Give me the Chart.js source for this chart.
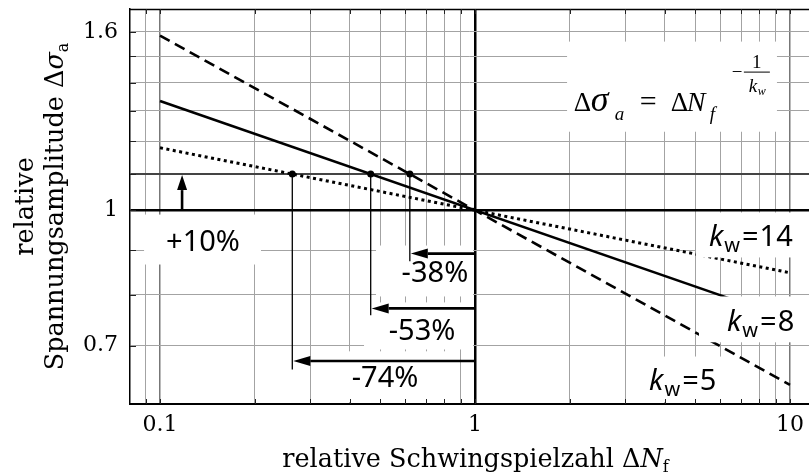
<!DOCTYPE html>
<html>
<head>
<meta charset="utf-8">
<script src="https://cdn.jsdelivr.net/npm/chart.js@4.4.1/dist/chart.umd.min.js"></script>
<style>
  html, body { margin: 0; padding: 0; background: #fff; overflow: hidden; }
  #wrap { width: 809px; height: 476px; }
</style>
</head>
<body>
<div id="wrap"><canvas id="c" width="809" height="476"></canvas></div>
<script>
// Woehler lines  Δσ = ΔN^(-1/k)  for three slopes (log-log)
const slopes     = [5, 8, 14];
const lineN      = [0.1, 10];                 // start / end cycle ratio
const lineS5     = [1.585, 0.631];
const lineS8     = [1.334, 0.750];
const lineS14    = [1.179, 0.848];

// +10 % stress and the resulting life ratios
const stressLevel = 1.1;
const crossN      = [0.621, 0.4665, 0.263];   // k = 5, 8, 14
const lifeLabels  = ['-38%', '-53%', '-74%'];
const arrowS      = [0.892, 0.772, 0.672];
const dropEndS    = [0.874, 0.758, 0.657];
const upArrowN    = 0.1175;

// axis ticks
const xTicks      = [0.09, 0.1, 0.2, 0.3, 0.4, 0.5, 0.6, 0.7, 0.8, 0.9, 1, 2, 3, 4, 5, 6, 7, 8, 9, 10];
const xLabelVals  = [0.1, 1, 10];
const xLabelText  = ['0.1', '1', '10'];
const yTicks      = [0.7, 0.8, 0.9, 1, 1.1, 1.2, 1.3, 1.4, 1.5, 1.6];
const yLabelVals  = [0.7, 1, 1.6];
const yLabelText  = ['0.7', '1', '1.6'];

// annotation placement (data units)
const layoutCfg = {
  percentAt: [[0.746, 0.8267], [0.679, 0.7112], [0.518, 0.6267]],
  plusAt: [0.1369, 0.8992],
  slopeAt: [[3.57, 0.6227], [6.31, 0.7265], [5.53, 0.9089]],   // k = 5, 8, 14
  formulaAt: [2.06, 1.3005],
  // white panels behind text: [x0, x1, y0, y1]
  panelsUnder: [
    [0.0890, 0.2092, 0.8667, 0.9887],
    [1.96, 9.09, 1.23, 1.56],
    [0.485, 0.9855, 0.7967, 0.9112],
    [0.4443, 0.9855, 0.6928, 0.7843],
    [0.344, 0.8767, 0.603, 0.6894],
    [3.32, 7.41, 0.603, 0.680]
  ],
  panelsOver: [
    [5.03, 20, 0.883, 0.994],
    [5.14, 20, 0.706, 0.7967]
  ]
};

const near = (a, b) => Math.abs(Math.log10(a) - Math.log10(b)) < 1e-6;
const SERIF = '"DejaVu Serif", serif';
const SANS = '"Noto Sans", sans-serif';
const MATH = '"Liberation Serif", "Times New Roman", serif';

function pts(ys) { return lineN.map((n, i) => ({ x: n, y: ys[i] })); }

function panel(ctx, x, y, p, a) {
  const x0 = Math.max(a.left + 1.5, x.getPixelForValue(p[0]));
  const x1 = Math.min(a.right, x.getPixelForValue(p[1]));
  const y0 = y.getPixelForValue(p[3]);
  const y1 = Math.min(a.bottom - 1.5, y.getPixelForValue(p[2]));
  ctx.fillRect(x0, y0, x1 - x0, y1 - y0);
}

function arrow(ctx, x0, y0, x1, y1, head, half) {
  const ang = Math.atan2(y1 - y0, x1 - x0);
  const bx = x1 - Math.cos(ang) * head, by = y1 - Math.sin(ang) * head;
  ctx.beginPath();
  ctx.moveTo(x0, y0);
  ctx.lineTo(bx, by);
  ctx.stroke();
  ctx.beginPath();
  ctx.moveTo(x1, y1);
  ctx.lineTo(bx - Math.sin(ang) * half, by + Math.cos(ang) * half);
  ctx.lineTo(bx + Math.sin(ang) * half, by - Math.cos(ang) * half);
  ctx.closePath();
  ctx.fill();
}

// draw a run of [text, font, dy, gapAfter] pieces starting at (x, y)
function rich(ctx, parts, x, y, align) {
  let w = 0;
  parts.forEach(p => { ctx.font = p[1]; w += ctx.measureText(p[0]).width + (p[3] || 0); });
  let cx = align === 'center' ? x - w / 2 : x;
  ctx.textAlign = 'left';
  ctx.textBaseline = 'alphabetic';
  parts.forEach(p => {
    ctx.font = p[1];
    ctx.fillText(p[0], cx, y + (p[2] || 0));
    cx += ctx.measureText(p[0]).width + (p[3] || 0);
  });
}

const annotate = {
  id: 'annotate',
  beforeDatasetsDraw(chart) {
    const { ctx, chartArea: a, scales: { x, y } } = chart;
    ctx.save();
    ctx.fillStyle = '#fff';
    layoutCfg.panelsUnder.forEach(p => panel(ctx, x, y, p, a));
    ctx.restore();
  },
  afterDatasetsDraw(chart) {
    const { ctx, chartArea: a, scales: { x, y } } = chart;
    ctx.save();
    ctx.fillStyle = '#fff';
    layoutCfg.panelsOver.forEach(p => panel(ctx, x, y, p, a));

    // frame: top edge and inner tick marks
    ctx.strokeStyle = '#000';
    ctx.lineWidth = 1.5;
    ctx.beginPath();
    ctx.moveTo(a.left, a.top + 0.5);
    ctx.lineTo(a.right, a.top + 0.5);
    ctx.stroke();
    ctx.strokeStyle = '#222';
    ctx.lineWidth = 1;
    xTicks.forEach(v => {
      const px = Math.round(x.getPixelForValue(v)) + 0.5;
      ctx.beginPath();
      ctx.moveTo(px, a.top); ctx.lineTo(px, a.top + 5);
      ctx.moveTo(px, a.bottom); ctx.lineTo(px, a.bottom - 5);
      ctx.stroke();
    });
    yTicks.forEach(v => {
      const py = Math.round(y.getPixelForValue(v)) + 0.5;
      ctx.beginPath();
      ctx.moveTo(a.left, py); ctx.lineTo(a.left + 6, py);
      ctx.stroke();
    });

    // drop lines from the +10 % crossings and life-reduction arrows
    ctx.strokeStyle = '#000';
    ctx.fillStyle = '#000';
    const x1px = x.getPixelForValue(1);
    crossN.forEach((n, i) => {
      const px = x.getPixelForValue(n);
      ctx.lineWidth = 1.3;
      ctx.beginPath();
      ctx.moveTo(px, y.getPixelForValue(stressLevel));
      ctx.lineTo(px, y.getPixelForValue(dropEndS[i]));
      ctx.stroke();
      ctx.lineWidth = 2.6;
      const ay = y.getPixelForValue(arrowS[i]);
      arrow(ctx, x1px, ay, px + 1, ay, 17, 5);
    });
    // +10 % arrow
    const ux = x.getPixelForValue(upArrowN);
    ctx.lineWidth = 2.6;
    arrow(ctx, ux, y.getPixelForValue(1), ux, y.getPixelForValue(stressLevel) + 1, 15, 5);

    // percentage labels
    ctx.font = '29px ' + SANS;
    ctx.textAlign = 'center';
    ctx.textBaseline = 'alphabetic';
    lifeLabels.forEach((t, i) => {
      const p = layoutCfg.percentAt[i];
      ctx.fillText(t, x.getPixelForValue(p[0]), y.getPixelForValue(p[1]));
    });
    ctx.fillText('+10%', x.getPixelForValue(layoutCfg.plusAt[0]), y.getPixelForValue(layoutCfg.plusAt[1]));

    // slope labels
    slopes.forEach((k, i) => {
      const p = layoutCfg.slopeAt[i];
      rich(ctx, [
        ['k', 'italic 29px ' + SANS, 0, 1],
        ['w', '20px ' + SANS, 6, 2],
        ['=', '29px ' + SANS, 0, 1],
        [String(k), '29px ' + SANS, 0]
      ], x.getPixelForValue(p[0]), y.getPixelForValue(p[1]), 'left');
    });

    // formula  Δσa = ΔNf^(-1/kw)
    const fx = x.getPixelForValue(layoutCfg.formulaAt[0]);
    const fy = y.getPixelForValue(layoutCfg.formulaAt[1]);
    ctx.textAlign = 'left';
    ctx.font = '27px ' + MATH;           ctx.fillText('\u0394', fx, fy);
    ctx.font = 'italic 36px ' + MATH;    ctx.fillText('\u03c3', fx + 17, fy);
    ctx.font = 'italic 19px ' + MATH;    ctx.fillText('a', fx + 41, fy + 9);
    ctx.font = '30px ' + MATH;           ctx.fillText('=', fx + 66, fy);
    ctx.font = '27px ' + MATH;           ctx.fillText('\u0394', fx + 97, fy);
    ctx.font = 'italic 28px ' + MATH;    ctx.fillText('N', fx + 113, fy);
    ctx.font = 'italic 19px ' + MATH;    ctx.fillText('f', fx + 136, fy + 9);
    ctx.font = '19px ' + MATH;           ctx.fillText('\u2212', fx + 158, fy - 33);
    ctx.lineWidth = 1;
    ctx.beginPath();
    ctx.moveTo(fx + 170, fy - 38.5); ctx.lineTo(fx + 196, fy - 38.5);
    ctx.stroke();
    ctx.font = '19px ' + MATH;           ctx.textAlign = 'center'; ctx.fillText('1', fx + 183, fy - 43);
    ctx.textAlign = 'left';
    ctx.font = 'italic 19px ' + MATH;    ctx.fillText('k', fx + 175, fy - 19);
    ctx.font = 'italic 12px ' + MATH;    ctx.fillText('w', fx + 184, fy - 16);

    // axis titles
    const cx = (a.left + a.right) / 2;
    rich(ctx, [
      ['relative Schwingspielzahl \u0394', '25.5px ' + SERIF, 0],
      ['N', 'italic 25.5px ' + SERIF, 0],
      ['f', '16px ' + SERIF, 5]
    ], cx + 6, 467, 'center');
    const cy = (a.top + a.bottom) / 2;
    ctx.save();
    ctx.translate(33, cy);
    ctx.rotate(-Math.PI / 2);
    rich(ctx, [['relative', '25.5px ' + SERIF, 0]], 0, 0, 'center');
    ctx.restore();
    ctx.save();
    ctx.translate(63, cy);
    ctx.rotate(-Math.PI / 2);
    rich(ctx, [
      ['Spannungsamplitude \u0394', '25.5px ' + SERIF, 0],
      ['\u03c3', 'italic 25.5px ' + SERIF, 0],
      ['a', '16px ' + SERIF, 5]
    ], 0, 0, 'center');
    ctx.restore();
    ctx.restore();
  }
};

function gridColor(v, axis) {
  if (near(v, 1)) return '#000';
  if (axis === 'y' && near(v, stressLevel)) return '#444';
  if (axis === 'x' && (near(v, 0.1) || near(v, 10))) return '#777';
  return '#a3a3a3';
}
function gridWidth(v, axis) {
  if (near(v, 1)) return 2.5;
  if (axis === 'y' && near(v, stressLevel)) return 2;
  if (axis === 'x' && (near(v, 0.1) || near(v, 10))) return 1.5;
  return 1;
}

function build() {
  new Chart(document.getElementById('c'), {
    type: 'scatter',
    data: {
      datasets: [
        { label: 'k=5', data: pts(lineS5), showLine: true, borderColor: '#000', borderWidth: 2.6, borderDash: [11, 6], pointRadius: 0 },
        { label: 'k=8', data: pts(lineS8), showLine: true, borderColor: '#000', borderWidth: 2.6, pointRadius: 0 },
        { label: 'k=14', data: pts(lineS14), showLine: true, borderColor: '#000', borderWidth: 3, borderDash: [3, 3.5], pointRadius: 0 },
        { label: '+10%', data: crossN.map(n => ({ x: n, y: stressLevel })), showLine: false,
          pointRadius: 3.5, pointBackgroundColor: '#000', pointBorderWidth: 0 }
      ]
    },
    options: {
      responsive: false,
      animation: false,
      layout: { autoPadding: false, padding: { top: 9, right: 0, left: 0, bottom: 0 } },
      plugins: { legend: { display: false }, tooltip: { enabled: false } },
      scales: {
        x: {
          type: 'logarithmic',
          min: 0.0803,
          max: 11.49,
          afterBuildTicks: s => { s.ticks = xTicks.map(v => ({ value: v })); },
          afterFit: s => { s.height = 72; s.paddingLeft = 0; s.paddingRight = 0; },
          ticks: {
            autoSkip: false, maxRotation: 0, padding: 8, color: '#000',
            font: { family: SERIF, size: 22 },
            callback: v => { const i = xLabelVals.findIndex(t => near(t, v)); return i >= 0 ? xLabelText[i] : ''; }
          },
          grid: {
            drawTicks: false,
            color: c => gridColor(c.tick.value, 'x'),
            lineWidth: c => gridWidth(c.tick.value, 'x')
          },
          border: { color: '#000', width: 2 }
        },
        y: {
          type: 'logarithmic',
          min: 0.601,
          max: 1.70,
          afterBuildTicks: s => { s.ticks = yTicks.map(v => ({ value: v })); },
          afterFit: s => { s.width = 130; s.paddingTop = 0; s.paddingBottom = 0; },
          ticks: {
            autoSkip: false, padding: 12, color: '#000',
            font: { family: SERIF, size: 22 },
            callback: v => { const i = yLabelVals.findIndex(t => near(t, v)); return i >= 0 ? yLabelText[i] : ''; }
          },
          grid: {
            drawTicks: false,
            color: c => gridColor(c.tick.value, 'y'),
            lineWidth: c => gridWidth(c.tick.value, 'y')
          },
          border: { color: '#000', width: 1.5 }
        }
      }
    },
    plugins: [annotate]
  });
}

const fontsReady = document.fonts
  ? Promise.all([
      document.fonts.load('23px "DejaVu Serif"'),
      document.fonts.load('italic 23px "DejaVu Serif"'),
      document.fonts.load('28px "Noto Sans"'),
      document.fonts.load('italic 28px "Noto Sans"'),
      document.fonts.load('25px "Liberation Serif"'),
      document.fonts.load('italic 25px "Liberation Serif"')
    ]).catch(() => {})
  : Promise.resolve();
fontsReady.then(build);
</script>
</body>
</html>
